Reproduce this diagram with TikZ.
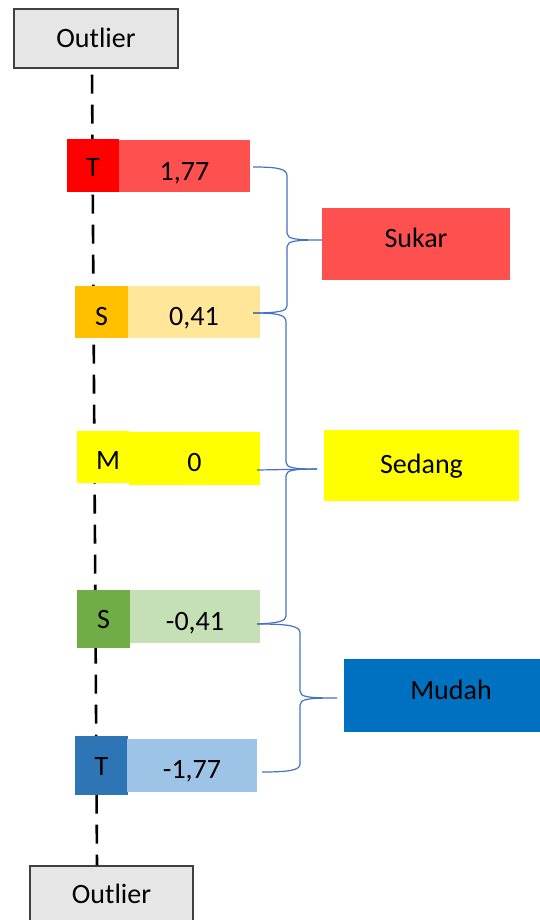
\documentclass[tikz,border=0pt]{standalone}
\usepackage{fontspec}
\setmainfont{Carlito}
\definecolor{boxgray}{HTML}{E7E6E6}
\definecolor{edgegray}{HTML}{404040}
\definecolor{tred}{HTML}{FF0000}
\definecolor{lred}{HTML}{FF5050}
\definecolor{sorange}{HTML}{FFC000}
\definecolor{lorange}{HTML}{FFE699}
\definecolor{myellow}{HTML}{FFFF00}
\definecolor{sgreen}{HTML}{70AD47}
\definecolor{lgreen}{HTML}{C5E0B4}
\definecolor{tblue}{HTML}{2E75B6}
\definecolor{lblue}{HTML}{9DC3E6}
\definecolor{dblue}{HTML}{0070C0}
\definecolor{braceblue}{HTML}{4472C4}
\begin{document}
\begin{tikzpicture}[x=1pt,y=-1pt,
  cell/.style={rectangle,inner sep=0pt,anchor=base,font=\fontsize{28}{30}\selectfont},
  outlierbox/.style={cell,fill=boxgray,draw=edgegray,line width=1.3pt},
  bracket/.style={draw=braceblue,line width=1.2pt},
  axisline/.style={draw=black,line width=2.6pt,dash pattern=on 19pt off 11pt,dash phase=24pt}]
\clip (0,0) rectangle (540,920);

% outlier boxes at both ends of the scale
\node[outlierbox,minimum width=164pt,text height=39pt,text depth=20pt] (outTop) at (96,48) {Outlier};
\node[outlierbox,minimum width=163pt,text height=37pt,text depth=22pt] (outBot) at (111.5,903) {Outlier};

% dashed axis behind the cells
\draw[axisline] ([xshift=-4pt]outTop.south) -- ([xshift=-14.5pt]outBot.north);

% scale cells: letter square + value box
\node[cell,fill=tred,minimum width=52pt,text height=38pt,text depth=15pt] (s1) at (93,177) {T};
\node[cell,fill=lred,minimum width=131pt,text height=40pt,text depth=12pt] (v1) at (184.5,180) {1,77};

\node[cell,fill=sorange,minimum width=53pt,text height=39pt,text depth=13pt] (s2) at (101.5,325) {S};
\node[cell,fill=lorange,minimum width=132pt,text height=39pt,text depth=13pt] (v2) at (194,325) {0,41};

\node[cell,fill=myellow,minimum width=52pt,text height=38pt,text depth=14pt] (s3) at (103,469) {\hspace{10pt}M};
\node[cell,fill=myellow,minimum width=131pt,text height=39pt,text depth=14pt] (v3) at (194.5,471) {0};

\node[cell,fill=sgreen,minimum width=53pt,text height=38pt,text depth=20pt] (s4) at (103.5,628) {S};
\node[cell,fill=lgreen,minimum width=130pt,text height=40pt,text depth=13pt] (v4) at (195,630) {-0,41};

\node[cell,fill=tblue,minimum width=53pt,text height=39pt,text depth=20pt] (s5) at (101.5,775) {T};
\node[cell,fill=lblue,minimum width=130pt,text height=39pt,text depth=14pt] (v5) at (192,778) {-1,77};

% category boxes
\node[cell,fill=lred,minimum width=188pt,text height=39pt,text depth=33pt] (sukar) at (416,247) {Sukar};
\node[cell,fill=myellow,minimum width=195pt,text height=43pt,text depth=28pt] (sedang) at (421.5,473) {Sedang};
\node[cell,fill=dblue,minimum width=214pt,text height=40pt,text depth=33pt] (mudah) at (451,699) {Mudah};

% brace end points and tips
\coordinate (a1) at (253,167);
\coordinate (a2) at (253,313);
\coordinate (a3) at (257,470);
\coordinate (a4) at (257,624);
\coordinate (a5) at (262,772);
\coordinate (t1) at (322,240);
\coordinate (t2) at (317,469);
\coordinate (t3) at (337,698);

% Sukar: T .. S (upper)
\draw[bracket] (a1) .. controls (279,167) and (287,169) .. (287,176) -- (287,233)
  .. controls (287,239) and (295,240) .. (t1)
  .. controls (295,240) and (287,241) .. (287,247) -- (287,306)
  .. controls (287,311) and (279,313) .. (a2);
% Sedang: S (upper) .. S (lower)
\draw[bracket] (a2) .. controls (279,313) and (286,315) .. (286,322) -- (286,462)
  .. controls (286,468) and (294,469) .. (t2)
  .. controls (294,469) and (286,470) .. (286,476) -- (286,616)
  .. controls (286,621) and (279,623) .. (a4);
\draw[bracket] (a3) -- (t2);
% Mudah: S (lower) .. T (lower)
\draw[bracket] (a4) .. controls (290,624) and (300,626) .. (300,633) -- (300,691)
  .. controls (300,697) and (308,698) .. (t3)
  .. controls (308,698) and (300,699) .. (300,705) -- (300,764)
  .. controls (300,770) and (290,772) .. (a5);
\end{tikzpicture}
\end{document}
